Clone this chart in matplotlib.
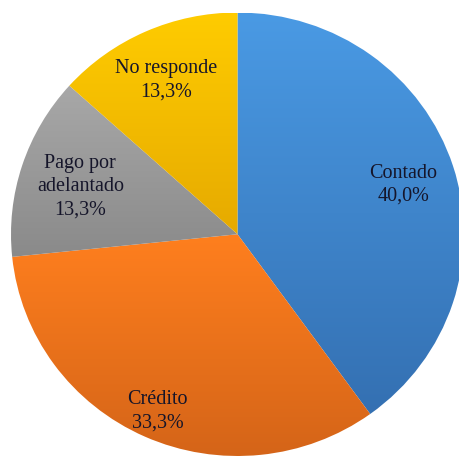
import numpy as np
import matplotlib.pyplot as plt
import matplotlib.transforms as mtransforms
from matplotlib.colors import to_rgb

plt.rcParams['font.family'] = 'serif'
plt.rcParams['font.serif'] = ['Liberation Serif', 'DejaVu Serif']

# datos
categorias = ['Contado', 'Crédito', 'Pago por\nadelantado', 'No responde']
porcentajes = [40.0, 33.3, 13.3, 13.3]
# color arriba / abajo (degradado vertical de cada sector)
col_arriba = ['#4A9AE4', '#FF7F1E', '#A8A8A8', '#FFCC00']
col_abajo = ['#3470B2', '#D46418', '#8A8A8A', '#E6AA00']
# distancia de cada etiqueta al centro (fraccion del radio)
dist_etiqueta = [0.77, 0.86, 0.73, 0.775]

etiquetas = [f"{c}\n{p:.1f}%".replace('.', ',') for c, p in zip(categorias, porcentajes)]

fig = plt.figure(figsize=(4.59, 4.58), dpi=100, facecolor='white')
# el sector sale un poco del borde derecho, como en la imagen
ax = fig.add_axes([11 / 459, 2 / 458, 453 / 459, 443.5 / 458])

wedges, textos = ax.pie(porcentajes, labels=etiquetas, startangle=90,
                        counterclock=False, labeldistance=1.0,
                        textprops=dict(fontsize=14.5, color='#15152a',
                                       linespacing=1.3))
ax.axis('off')

t = np.linspace(0, 1, 256)[:, None, None]
for w, ca, cb in zip(wedges, col_arriba, col_abajo):
    a = np.array(to_rgb(ca))[None, None, :]
    b = np.array(to_rgb(cb))[None, None, :]
    img = np.repeat(a * (1 - t) + b * t, 2, axis=1)
    verts = w.get_path().vertices
    y0, y1 = verts[:, 1].min(), verts[:, 1].max()
    w.set_facecolor('none')
    w.set_edgecolor('none')
    im = ax.imshow(img, extent=[-1, 1, y0, y1], origin='upper', zorder=0.5,
                   interpolation='bilinear', aspect='auto')
    im.set_clip_path(w)

ax.set_xlim(-1, 1)
ax.set_ylim(-1, 1)
ax.set_aspect('auto')

bajar = mtransforms.offset_copy(ax.transData, fig=fig, y=-3, units='dots')
for tx, d in zip(textos, dist_etiqueta):
    x, y = tx.get_position()
    tx.set_position((x * d, y * d))
    tx.set_transform(bajar)
    tx.set_ha('center')
    tx.set_va('center')
    tx.set_zorder(3)

fig.savefig('out.png', dpi=100)
